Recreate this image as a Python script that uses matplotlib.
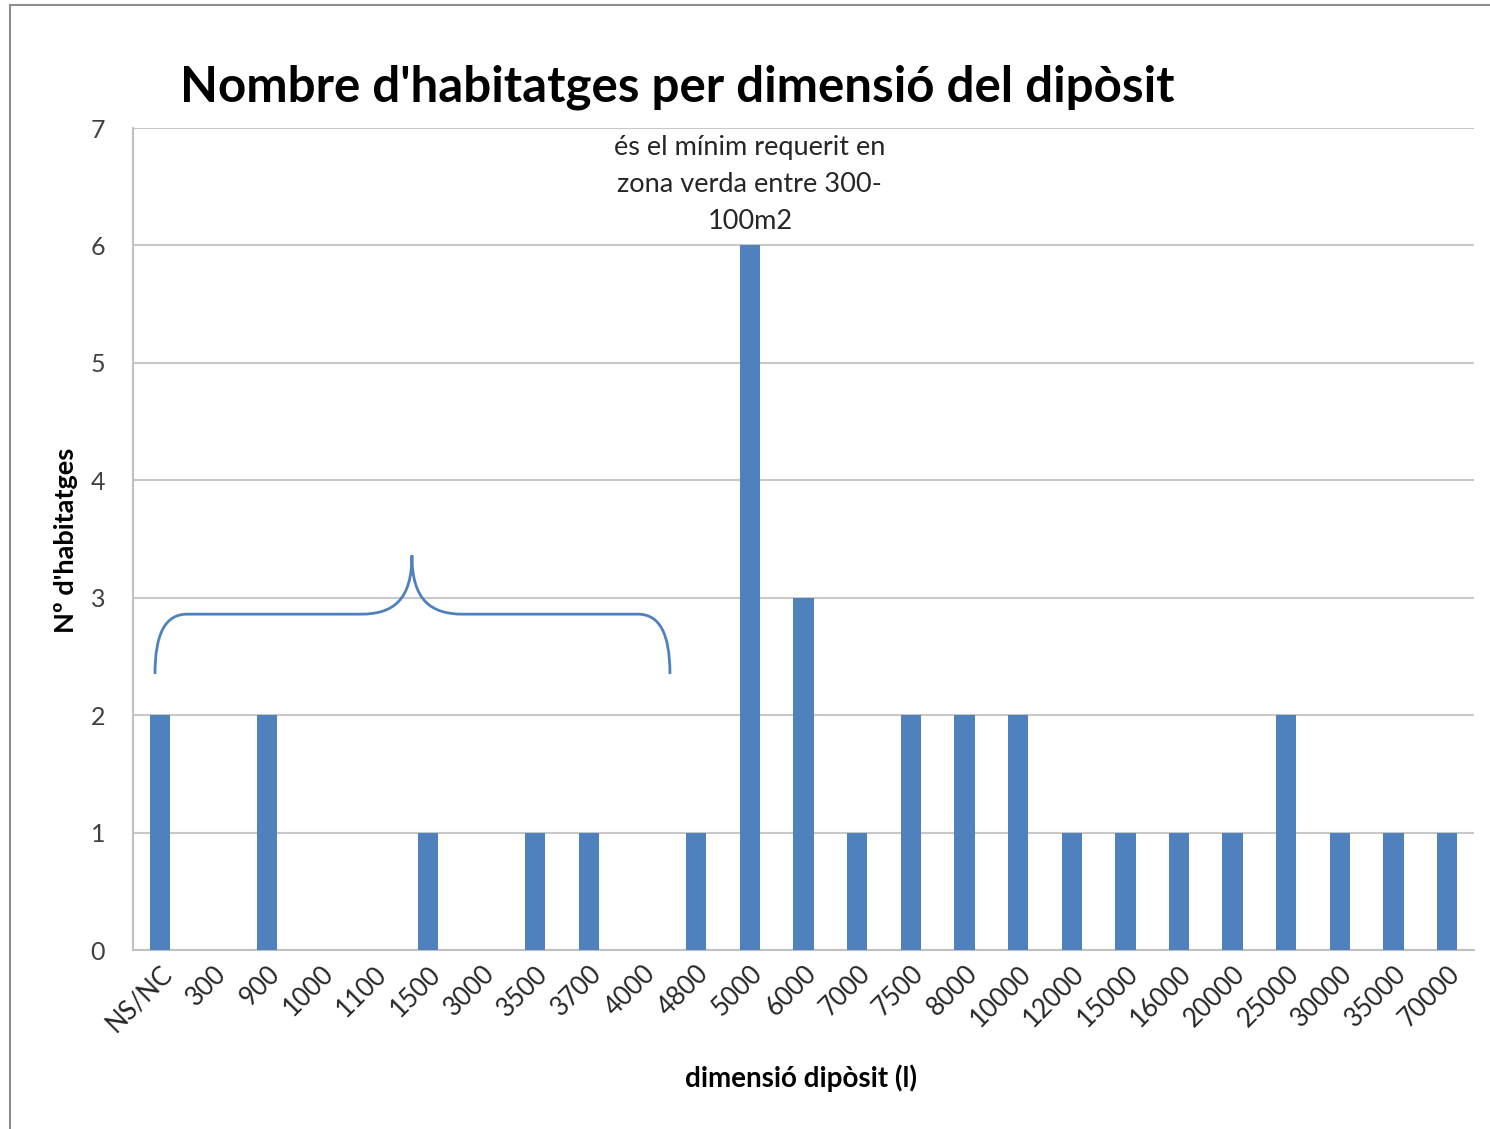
import matplotlib
matplotlib.use("Agg")
import matplotlib.pyplot as plt
from matplotlib.patches import Rectangle
from matplotlib.path import Path
from matplotlib.patches import PathPatch

categories = ["NS/NC", "300", "900", "1000", "1100", "1500", "3000", "3500", "3700", "4000",
              "4800", "5000", "6000", "7000", "7500", "8000", "10000", "12000", "15000",
              "16000", "20000", "25000", "30000", "35000", "70000"]
values = [2, 0, 2, 0, 0, 1, 0, 1, 1, 0, 1, 6, 3, 1, 2, 2, 2, 1, 1, 1, 1, 2, 1, 1, 1]
yticks = [0, 1, 2, 3, 4, 5, 6, 7]

plt.rcParams['font.family'] = ['Lato', 'DejaVu Sans']

W, H = 1490, 1129
fig = plt.figure(figsize=(W / 100, H / 100), dpi=100)
fig.patch.set_facecolor('white')

# outer frame
fig.add_artist(Rectangle((10 / W, -0.01), 1.02, 1 - 5 / H + 0.01, transform=fig.transFigure,
                         fill=False, edgecolor='#8c8c8c', linewidth=1.5))

ax = fig.add_axes([133 / W, 1 - 950 / H, (1474 - 133) / W, (950 - 128) / H])
x = list(range(len(categories)))
ax.bar(x, values, width=0.38, color='#4F81BD', zorder=3)
ax.set_xlim(-0.5, len(categories) - 0.5)
ax.set_ylim(0, 7)
ax.set_yticks(yticks)
ax.set_yticklabels([str(v) for v in yticks], fontsize=18, color='#404040')
ax.set_xticks(x)
ax.set_xticklabels(categories, rotation=45, ha='right', rotation_mode='anchor',
                   fontsize=18.5, color='#262626')
ax.tick_params(axis='both', length=0)
ax.tick_params(axis='y', pad=20)
ax.tick_params(axis='x', pad=8)
ax.grid(axis='y', color='#c8c8c8', linewidth=1.5, zorder=0)
for s in ['top', 'right']:
    ax.spines[s].set_visible(False)
ax.spines['left'].set_color('#c0c0c0')
ax.spines['left'].set_linewidth(1.5)
ax.spines['bottom'].set_color('#c0c0c0')
ax.spines['bottom'].set_linewidth(1.5)

fig.text(180 / W, 1 - 87 / H, "Nombre d'habitatges per dimensió del dipòsit",
         fontsize=35.5, fontweight='bold', ha='left', va='center', color='black')
fig.text(66 / W, 1 - 540 / H, "Nº d'habitatges", rotation=90, fontsize=19.5,
         fontweight='bold', ha='center', va='center', color='black')
fig.text(801 / W, 1 - 1078 / H, "dimensió dipòsit (l)", fontsize=20,
         fontweight='bold', ha='center', va='center', color='black')

ax.text(11, 6.1, "és el mínim requerit en\nzona verda entre 300-\n100m2", ha='center',
        va='bottom', fontsize=19.5, color='#262626', linespacing=1.6)

# curly brace annotation
xl, xr, xm = -0.09, 9.51, 4.70
yb, yh, yt = 2.35, 2.86, 3.36
verts = [(xl, yb), (xl, yb + 0.35), (xl + 0.2, yh), (xl + 0.6, yh),
         (xm - 0.95, yh), (xm - 0.35, yh), (xm, yh + 0.12), (xm, yt),
         (xm, yh + 0.12), (xm + 0.35, yh), (xm + 0.95, yh),
         (xr - 0.6, yh), (xr - 0.2, yh), (xr, yb + 0.35), (xr, yb)]
codes = [Path.MOVETO, Path.CURVE4, Path.CURVE4, Path.CURVE4,
         Path.LINETO, Path.CURVE4, Path.CURVE4, Path.CURVE4,
         Path.CURVE4, Path.CURVE4, Path.CURVE4,
         Path.LINETO, Path.CURVE4, Path.CURVE4, Path.CURVE4]
ax.add_patch(PathPatch(Path(verts, codes), fill=False, edgecolor='#4F81BD',
                       linewidth=2, zorder=4, clip_on=False))

fig.savefig("out.png", dpi=100, facecolor='white')
